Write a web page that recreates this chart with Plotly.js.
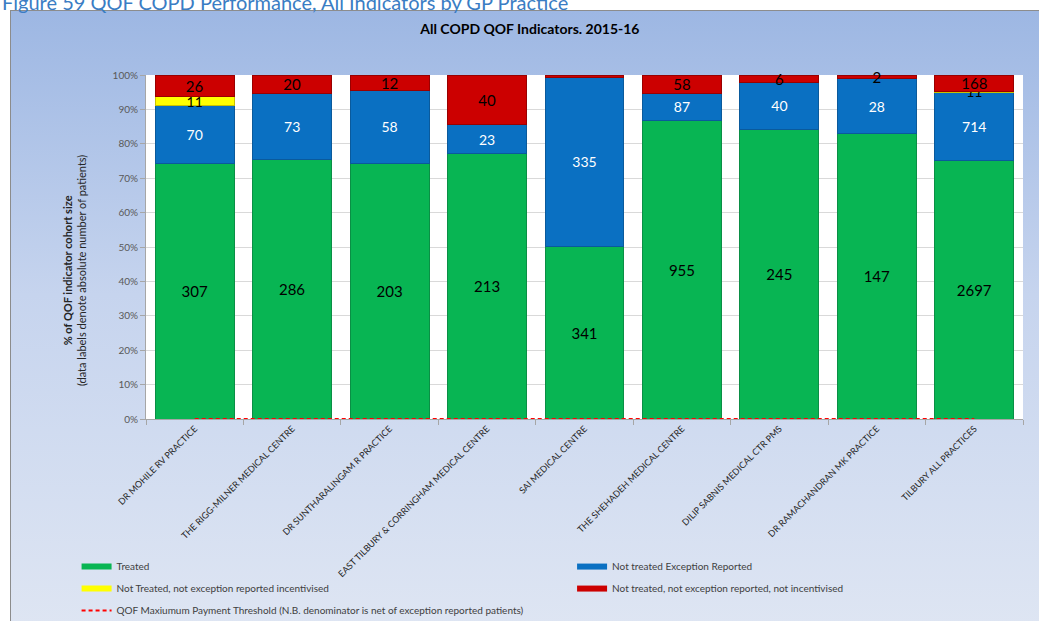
<!DOCTYPE html>
<html>
<head>
<meta charset="utf-8">
<script src="https://cdn.plot.ly/plotly-3.0.1.min.js"></script>
<style>
  html, body { margin: 0; padding: 0; background: #ffffff; }
  #wrap { position: relative; width: 1039px; height: 621px; overflow: hidden; background: #ffffff; }
  #frame {
    position: absolute; left: 10px; top: 10px; width: 1040px; height: 630px;
    border: 1px solid #8c8c8c;
    background: linear-gradient(to bottom, #9db7e3 0%, #c6d4ee 45%, #dfe6f3 100%);
  }
  #chart { position: absolute; left: 0; top: 0; width: 1039px; height: 621px; }
</style>
</head>
<body>
<div id="wrap">
  <div id="frame"></div>
  <div id="chart"></div>
</div>
<script>
// Practices (categories)
const practices = [
  "DR MOHILE RV PRACTICE",
  "THE RIGG-MILNER MEDICAL CENTRE",
  "DR SUNTHARALINGAM R PRACTICE",
  "EAST TILBURY & CORRINGHAM MEDICAL CENTRE",
  "SAI MEDICAL CENTRE",
  "THE SHEHADEH MEDICAL CENTRE",
  "DILIP SABNIS MEDICAL CTR PMS",
  "DR RAMACHANDRAN MK PRACTICE",
  "TILBURY ALL PRACTICES"
];

// Patient counts per outcome
const treated              = [307, 286, 203, 213, 341, 955, 245, 147, 2697];
const exceptionReported    = [70, 73, 58, 23, 335, 87, 40, 28, 714];
const notTreatedIncentive  = [11, 0, 0, 0, 0, 0, 0, 0, 11];
const notTreatedNoIncent   = [26, 20, 12, 40, 4, 58, 6, 2, 168];

// QOF maximum payment threshold (%)
const threshold = [0, 0, 0, 0, 0, 0, 0, 0, 0];

const seriesNames = [
  "Treated",
  "Not treated Exception Reported",
  "Not Treated, not exception reported incentivised",
  "Not treated, not exception reported, not incentivised",
  "QOF Maxiumum Payment Threshold (N.B. denominator is net of exception reported patients)"
];

const colors = {
  green: "#08b553", greenEdge: "#0a8f45",
  blue: "#0a70c2", blueEdge: "#0a5a9c",
  yellow: "#ffff00", yellowEdge: "#c9c200",
  red: "#cc0000", redEdge: "#990000"
};

const FONT = "Lato, 'Open Sans', sans-serif";

function labels(vals) { return vals.map(v => v ? String(v) : ""); }

function barTrace(vals, name, fill, edge, textColor, textSize) {
  return {
    type: "bar",
    x: practices,
    y: vals,
    name: name,
    showlegend: false,
    legendgroup: name,
    marker: { color: fill, line: { color: edge, width: 1 } },
    text: labels(vals),
    textposition: "inside",
    insidetextanchor: "middle",
    textangle: 0,
    constraintext: "none",
    cliponaxis: false,
    textfont: { family: FONT, size: textSize, color: textColor },
    hoverinfo: "x+y+name"
  };
}

// Legend keys drawn as thick flat strokes
function legendKey(name, color, legendId) {
  return {
    type: "scatter", mode: "lines",
    x: [null], y: [null],
    name: name, legendgroup: name,
    legend: legendId,
    line: { color: color, width: 6 },
    hoverinfo: "skip"
  };
}

const data = [
  barTrace(treated, seriesNames[0], colors.green, colors.greenEdge, "#000000", 15),
  barTrace(exceptionReported, seriesNames[1], colors.blue, colors.blueEdge, "#ffffff", 14),
  barTrace(notTreatedIncentive, seriesNames[2], colors.yellow, colors.yellowEdge, "#000000", 14),
  barTrace(notTreatedNoIncent, seriesNames[3], colors.red, colors.redEdge, "#000000", 15),
  legendKey(seriesNames[0], colors.green, "legend"),
  legendKey(seriesNames[2], colors.yellow, "legend"),
  legendKey(seriesNames[1], colors.blue, "legend2"),
  legendKey(seriesNames[3], colors.red, "legend2"),
  {
    type: "scatter", mode: "lines",
    x: practices, y: threshold,
    name: seriesNames[4],
    legendgroup: "threshold",
    legend: "legend",
    line: { color: "#ff0000", width: 2, dash: "4px,3px" },
    cliponaxis: false
  }
];

const legendBase = {
  orientation: "v",
  xref: "container", yref: "container",
  yanchor: "top", xanchor: "left",
  y: 0.111,
  bgcolor: "rgba(0,0,0,0)",
  font: { family: FONT, size: 10, color: "#404040" },
  traceorder: "grouped",
  tracegroupgap: 3,
  itemwidth: 30
};

const layout = {
  width: 1039, height: 621,
  paper_bgcolor: "rgba(0,0,0,0)",
  plot_bgcolor: "#ffffff",
  margin: { l: 146, r: 16, t: 75, b: 202, autoexpand: false },
  font: { family: FONT, size: 10, color: "#404040" },
  barmode: "stack",
  barnorm: "percent",
  bargap: 0.19,
  title: {
    text: "<b>All COPD QOF Indicators. 2015-16</b>",
    font: { family: FONT, size: 14, color: "#000000" },
    x: 0.51, xanchor: "center",
    y: 0.953, yanchor: "middle"
  },
  xaxis: {
    type: "category",
    automargin: false,
    tickangle: -45,
    tickfont: { family: FONT, size: 9, color: "#262626" },
    ticks: "outside", ticklen: 5, tickcolor: "#a6a6a6",
    tickson: "boundaries",
    showline: true, linecolor: "#a6a6a6", linewidth: 1,
    showgrid: false,
    fixedrange: true
  },
  yaxis: {
    automargin: false,
    range: [0, 100],
    dtick: 10,
    ticksuffix: "%",
    tickfont: { family: FONT, size: 10, color: "#595959" },
    ticks: "outside", ticklen: 5, tickcolor: "#a6a6a6",
    showline: true, linecolor: "#a6a6a6", linewidth: 1,
    gridcolor: "#d9d9d9",
    zeroline: false,
    fixedrange: true
  },
  showlegend: true,
  legend: Object.assign({}, legendBase, { x: 0.0737 }),
  legend2: Object.assign({}, legendBase, { x: 0.5506 }),
  annotations: [
    {
      xref: "paper", yref: "paper",
      x: 0, y: 0.43, xshift: -72,
      xanchor: "center", yanchor: "middle",
      textangle: -90,
      showarrow: false,
      align: "center",
      text: "<b>% of QOF indicator cohort size</b><br>(data labels denote absolute number of patients)",
      font: { family: FONT, size: 11, color: "#262626" }
    },
    {
      xref: "paper", yref: "paper",
      x: 0, y: 1, xshift: -146, yshift: 59,
      xanchor: "left", yanchor: "bottom",
      showarrow: false,
      text: "Figure 59 QOF COPD Performance, All Indicators by GP Practice",
      font: { family: FONT, size: 20, color: "#3a7dc4" }
    }
  ]
};

Plotly.newPlot("chart", data, layout, { displayModeBar: false, staticPlot: true });
</script>
</body>
</html>
